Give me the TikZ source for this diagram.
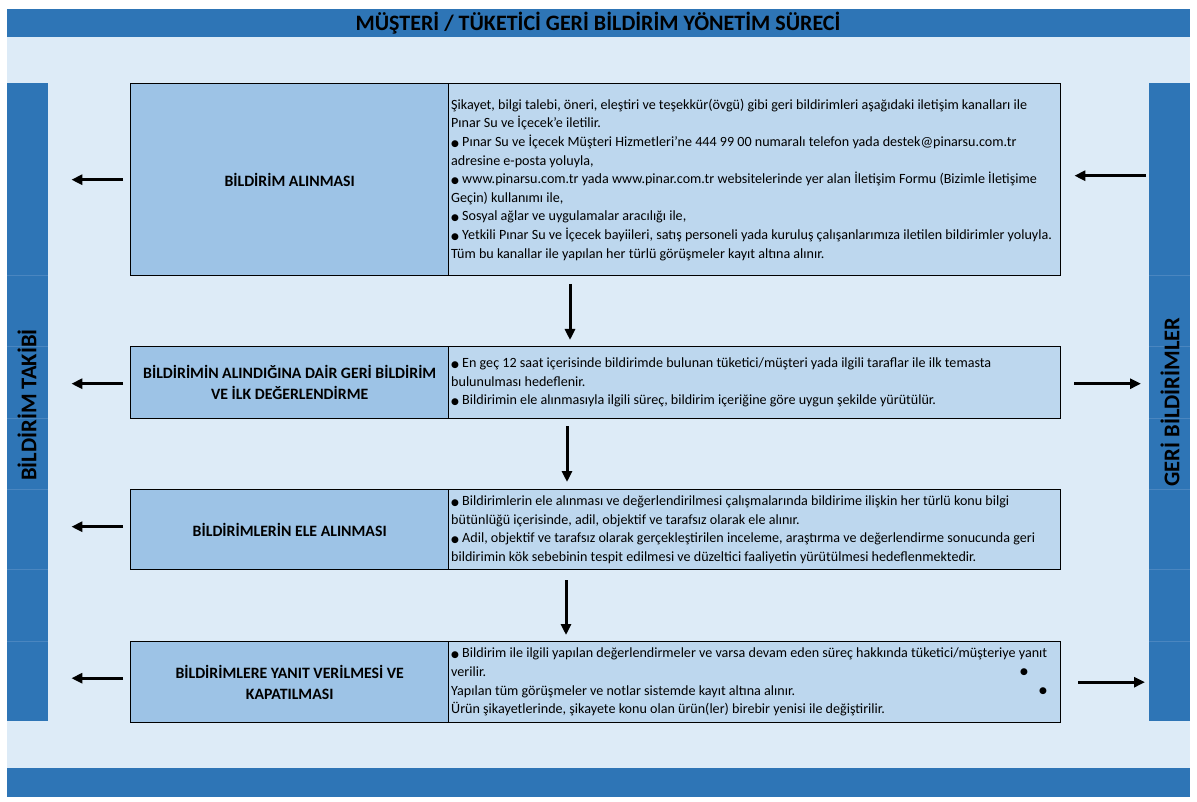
\documentclass[tikz,border=0pt]{standalone}
\usepackage{fontspec}
\setmainfont{Carlito}
\newfontfamily\dejavu{DejaVu Sans}
\usetikzlibrary{arrows.meta}
\definecolor{barblue}{HTML}{2E75B6}
\definecolor{bgblue}{HTML}{DDEBF7}
\definecolor{lcellc}{HTML}{9DC3E6}
\definecolor{rcellc}{HTML}{BDD7EE}
\definecolor{seamc}{HTML}{4A86C0}
\newcommand{\bul}{{\dejavu\fontsize{9}{9}\selectfont ●}}
\tikzset{
  lcell/.style={draw=black, line width=1.4pt, fill=lcellc, anchor=north west, inner sep=0pt, align=center,
    font=\bfseries\fontsize{15.8}{21}\selectfont, minimum width=318pt},
  rcell/.style={draw=black, line width=1.4pt, fill=rcellc, anchor=north west, inner sep=0pt, minimum width=612pt},
  body/.style={anchor=west, align=left, inner sep=0pt, font=\fontsize{14.1}{18.6}\selectfont},
  sidebar/.style={fill=barblue, anchor=north west, inner sep=0pt, minimum width=41pt, minimum height=638pt},
  sidetext/.style={rotate=90, font=\bfseries\fontsize{22.5}{24}\selectfont, inner sep=0pt},
  arr/.style={-{Triangle[length=11pt,width=10pt]}, line width=3pt, black},
  seam/.style={seamc, line width=0.6pt}
}
\begin{document}
\begin{tikzpicture}[x=1pt,y=-1pt]
\useasboundingbox (0,0) rectangle (1197,802);
\fill[white] (0,0) rectangle (1197,802);
\fill[bgblue] (7,37) rectangle (1190,768);
\fill[barblue] (7,9) rectangle (1190,37);
\fill[barblue] (7,768) rectangle (1190,797);
\node[font=\bfseries\fontsize{22}{24}\selectfont, inner sep=0pt] (title) at (598,23) {MÜŞTERİ / TÜKETİCİ GERİ BİLDİRİM YÖNETİM SÜRECİ};

% side bars
\node[sidebar] (lbar) at (7,83) {};
\node[sidebar] (rbar) at (1149,83) {};
\foreach \yy in {275,346,418,489,569,641}{
  \draw[seam] (7,\yy) -- (48,\yy);
  \draw[seam] (1149,\yy) -- (1190,\yy);
}
\node[sidetext] (ltext) at (27,405) {BİLDİRİM TAKİBİ};
\node[sidetext] (rtext) at (1170,402) {GERİ BİLDİRİMLER};

% box 1
\node[lcell, minimum height=192pt] (l1) at (130,83) {BİLDİRİM ALINMASI};
\node[rcell, minimum height=192pt] (r1) at (448,83) {};
\node[body] (t1) at ([xshift=3pt]r1.west) {Şikayet, bilgi talebi, öneri, eleştiri ve teşekkür(övgü) gibi geri bildirimleri aşağıdaki iletişim kanalları ile\\
Pınar Su ve İçecek'e iletilir.\\
\bul\ Pınar Su ve İçecek Müşteri Hizmetleri'ne 444 99 00 numaralı telefon yada destek@pinarsu.com.tr\\
adresine e-posta yoluyla,\\
\bul\ www.pinarsu.com.tr yada www.pinar.com.tr websitelerinde yer alan İletişim Formu (Bizimle İletişime\\
Geçin) kullanımı ile,\\
\bul\ Sosyal ağlar ve uygulamalar aracılığı ile,\\
\bul\ Yetkili Pınar Su ve İçecek bayiileri, satış personeli yada kuruluş çalışanlarımıza iletilen bildirimler yoluyla.\\
Tüm bu kanallar ile yapılan her türlü görüşmeler kayıt altına alınır.};

% box 2
\node[lcell, minimum height=72pt] (l2) at (130,346) {BİLDİRİMİN ALINDIĞINA DAİR GERİ BİLDİRİM\\VE İLK DEĞERLENDİRME};
\node[rcell, minimum height=72pt] (r2) at (448,346) {};
\node[body] (t2) at ([xshift=3pt]r2.west) {\bul\ En geç 12 saat içerisinde bildirimde bulunan tüketici/müşteri yada ilgili taraflar ile ilk temasta\\
bulunulması hedeflenir.\\
\bul\ Bildirimin ele alınmasıyla ilgili süreç, bildirim içeriğine göre uygun şekilde yürütülür.};

% box 3
\node[lcell, minimum height=80pt] (l3) at (130,489) {BİLDİRİMLERİN ELE ALINMASI};
\node[rcell, minimum height=80pt] (r3) at (448,489) {};
\node[body] (t3) at ([xshift=3pt]r3.west) {\bul\ Bildirimlerin ele alınması ve değerlendirilmesi çalışmalarında bildirime ilişkin her türlü konu bilgi\\
bütünlüğü içerisinde, adil, objektif ve tarafsız olarak ele alınır.\\
\bul\ Adil, objektif ve tarafsız olarak gerçekleştirilen inceleme, araştırma ve değerlendirme sonucunda geri\\
bildirimin kök sebebinin tespit edilmesi ve düzeltici faaliyetin yürütülmesi hedeflenmektedir.};

% box 4
\node[lcell, minimum height=81pt] (l4) at (130,641) {BİLDİRİMLERE YANIT VERİLMESİ VE\\KAPATILMASI};
\node[rcell, minimum height=81pt] (r4) at (448,641) {};
\node[body] (t4) at ([xshift=3pt]r4.west) {\bul\ Bildirim ile ilgili yapılan değerlendirmeler ve varsa devam eden süreç hakkında tüketici/müşteriye yanıt\\
verilir.\\
Yapılan tüm görüşmeler ve notlar sistemde kayıt altına alınır.\\
Ürün şikayetlerinde, şikayete konu olan ürün(ler) birebir yenisi ile değiştirilir.};
\node[inner sep=0pt] (dot1) at (1024,672) {\bul};
\node[inner sep=0pt] (dot2) at (1043,691) {\bul};

% left arrows
\draw[arr, shorten <=7pt, shorten >=23pt] ([yshift=0pt]l1.west) -- ([yshift=0pt]l1.west -| lbar.east);
\draw[arr, shorten <=7pt, shorten >=23pt] ([yshift=-1pt]l2.west) -- ([yshift=-1pt]l2.west -| lbar.east);
\draw[arr, shorten <=7pt, shorten >=23pt] ([yshift=3pt]l3.west) -- ([yshift=3pt]l3.west -| lbar.east);
\draw[arr, shorten <=7pt, shorten >=23pt] ([yshift=4pt]l4.west) -- ([yshift=4pt]l4.west -| lbar.east);

% right arrows
\draw[arr, shorten <=3pt, shorten >=13pt] ([yshift=4pt]r1.east -| rbar.west) -- ([yshift=4pt]r1.east);
\draw[arr, shorten <=13pt, shorten >=8pt] ([yshift=-1pt]r2.east) -- ([yshift=-1pt]r2.east -| rbar.west);
\draw[arr, shorten <=17pt, shorten >=4pt] (r4.east) -- (r4.east -| rbar.west);

% vertical arrows
\coordinate (v1) at (570,275);
\coordinate (v2) at (567,418);
\coordinate (v3) at (566,569);
\draw[arr, shorten <=9pt, shorten >=6pt] (v1) -- (v1 |- r2.north);
\draw[arr, shorten <=8pt, shorten >=7pt] (v2) -- (v2 |- r3.north);
\draw[arr, shorten <=11pt, shorten >=6pt] (v3) -- (v3 |- r4.north);
\end{tikzpicture}
\end{document}
